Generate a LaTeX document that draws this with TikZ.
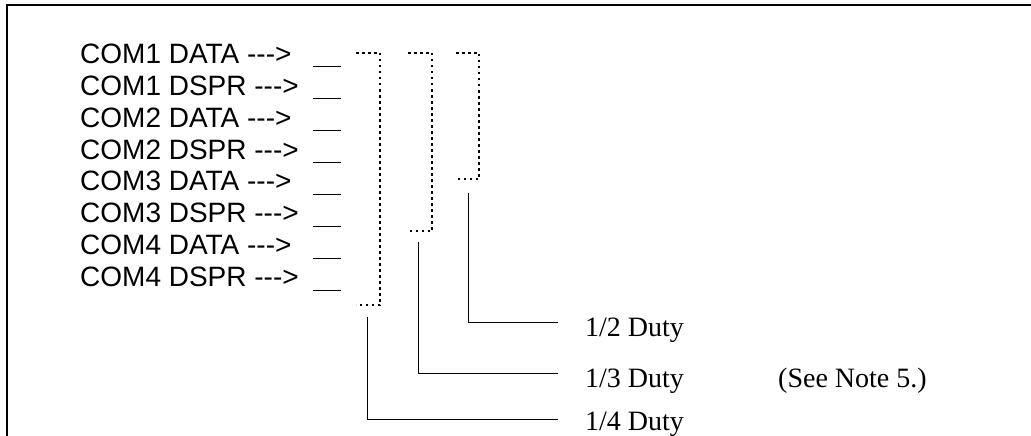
\documentclass[tikz,border=0pt]{standalone}
\usepackage{fontspec}
\newfontfamily\comfont{Liberation Sans}
\newfontfamily\dutyfont{Liberation Serif}
% arrow text, kept apart so no dash ligature is formed
\newcommand\arrowtxt{\mbox{-}\mbox{-}\mbox{-}>}

\begin{document}
\begin{tikzpicture}[
    x=1pt, y=-1pt,
    comlbl/.style={
        anchor=base west,
        inner sep=0pt,
        font=\comfont\fontsize{28}{30}\selectfont
    },
    dutylbl/.style={
        anchor=base west,
        inner sep=0pt,
        font=\dutyfont\fontsize{28}{30}\selectfont
    },
    dotwire/.style={line width=1.5pt, dash pattern=on 2.5pt off 3.5pt},
    wire/.style={line width=1pt},
    frame/.style={line width=2.2pt}
]
\useasboundingbox (0,0) rectangle (1031,436);

    % frame (top and left edges)
    \draw[frame] (7,436) -- (7,5) -- (1031,5);

    % signal rows
    \foreach \lbl [count=\i] in {COM1 DATA, COM1 DSPR, COM2 DATA, COM2 DSPR,
                                 COM3 DATA, COM3 DSPR, COM4 DATA, COM4 DSPR} {
        \pgfmathsetmacro\yb{63.3+31.9*(\i-1)}
        \node[comlbl] (row\i) at (80,\yb) {\lbl{} \arrowtxt};
        \draw[wire] (313,\yb+3.7) -- (341,\yb+3.7);
    }

    % dotted brackets
    \draw[dotwire] (356,53) -- (380,53) -- (380,305) -- (356,305);
    \draw[dotwire] (408,53) -- (432,53) -- (432,231) -- (408,231);
    \draw[dotwire] (456,53) -- (479,53) -- (479,179) -- (456,179);

    % duty labels
    \node[dutylbl] (duty2) at (585,336) {1/2 Duty};
    \node[dutylbl] (duty3) at (585,387) {1/3 Duty};
    \node[dutylbl] (duty4) at (585,430.5) {1/4 Duty};
    \node[dutylbl] (note) at (778,387) {(See Note 5.)};

    % connectors
    \coordinate (b2) at (468,193);
    \coordinate (b3) at (418,242);
    \coordinate (b4) at (367,317);
    \draw[wire] (b2) |- ([shift={(-27pt,14pt)}]duty2.base west);
    \draw[wire] (b3) |- ([shift={(-27pt,14pt)}]duty3.base west);
    \draw[wire] (b4) |- ([shift={(-27pt,11.5pt)}]duty4.base west);

\end{tikzpicture}
\end{document}
